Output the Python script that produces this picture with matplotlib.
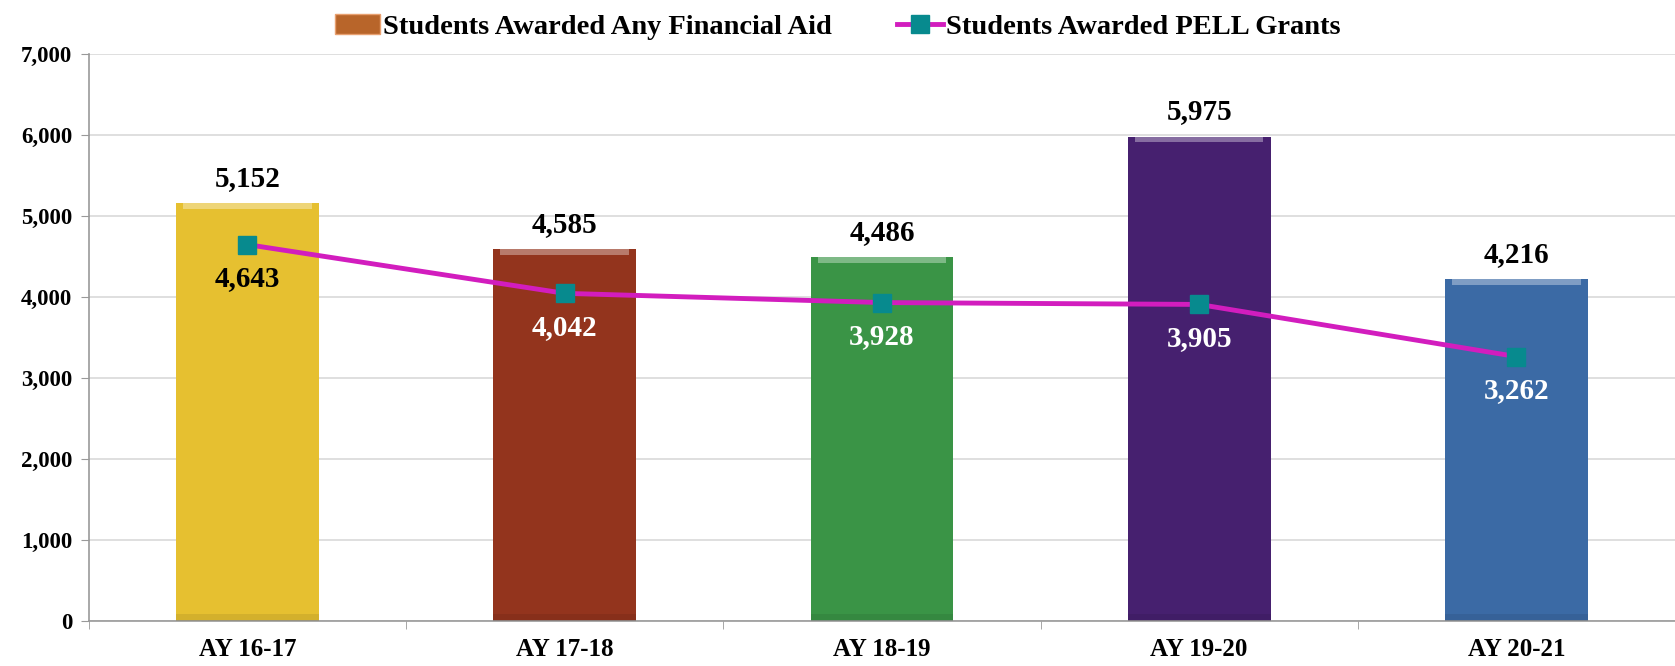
import matplotlib.pyplot as plt
import numpy as np
from matplotlib.patches import Patch

years = ['AY 16-17', 'AY 17-18', 'AY 18-19', 'AY 19-20', 'AY 20-21']
any_aid = [5152, 4585, 4486, 5975, 4216]
pell = [4643, 4042, 3928, 3905, 3262]
bar_colors = ['#E6C030', '#93341D', '#3A9446', '#46206F', '#3B6AA5']
pell_label_colors = ['black', 'white', 'white', 'white', 'white']

plt.rcParams['font.family'] = ['Liberation Serif', 'DejaVu Serif']
plt.rcParams['font.weight'] = 'bold'

fig = plt.figure(figsize=(16.75, 6.66), dpi=100)
ax = fig.add_axes([0.053, 0.0676, 0.947, 0.852])

x = np.arange(len(years))
bars = ax.bar(x, any_aid, width=0.45, color=bar_colors, zorder=2, edgecolor='none')
# light bevel along the top, darker band at the bottom
for b in bars:
    cx = b.get_x() + b.get_width() / 2
    ax.bar(cx, 70, bottom=b.get_height() - 70, width=b.get_width() * 0.9,
           color='white', alpha=0.35, zorder=3, edgecolor='none')
    ax.bar(cx, 80, bottom=0, width=b.get_width(),
           color='black', alpha=0.08, zorder=3, edgecolor='none')

line, = ax.plot(x, pell, color='#D21DBE', linewidth=3.5, marker='s',
                markersize=13, markerfacecolor='#078A8E',
                markeredgecolor='#078A8E', zorder=4)

for i, v in enumerate(any_aid):
    ax.annotate(f'{v:,}', (x[i], v), xytext=(0, 8), textcoords='offset points',
                ha='center', va='bottom', fontsize=21, fontweight='bold')
for i, v in enumerate(pell):
    ax.annotate(f'{v:,}', (x[i], v), xytext=(0, -15), textcoords='offset points',
                ha='center', va='top', fontsize=21, fontweight='bold',
                color=pell_label_colors[i])

ax.set_ylim(0, 7000)
ax.set_xlim(-0.5, 4.47)
ax.set_yticks(range(0, 7001, 1000))
ax.set_yticklabels([f'{t:,}' for t in range(0, 7001, 1000)], fontsize=16.5)
ax.set_xticks(x)
ax.set_xticklabels(years, fontsize=18)
ax.set_xticks(np.arange(-0.5, 4.6, 1), minor=True)
ax.tick_params(axis='x', which='major', length=0, pad=12)
ax.tick_params(axis='x', which='minor', length=6, color='#999999')
ax.tick_params(axis='y', length=6, color='#999999', pad=6)
ax.grid(True, axis='y', color='#D9D9D9', linewidth=1.2, zorder=0)
ax.set_axisbelow(True)
for s in ['top', 'right']:
    ax.spines[s].set_visible(False)
for s in ['left', 'bottom']:
    ax.spines[s].set_color('#999999')
    ax.spines[s].set_linewidth(1.2)

handles = [Patch(facecolor='#B8652A', edgecolor='#E8A070'), line]
labels = ['Students Awarded Any Financial Aid', 'Students Awarded PELL Grants']
fig.legend(handles, labels, loc='upper center', bbox_to_anchor=(0.5, 1.017),
           ncol=2, frameon=False, fontsize=20.5, columnspacing=2.3,
           handlelength=1.6, handletextpad=0.1)

plt.savefig('out.png', dpi=100)
